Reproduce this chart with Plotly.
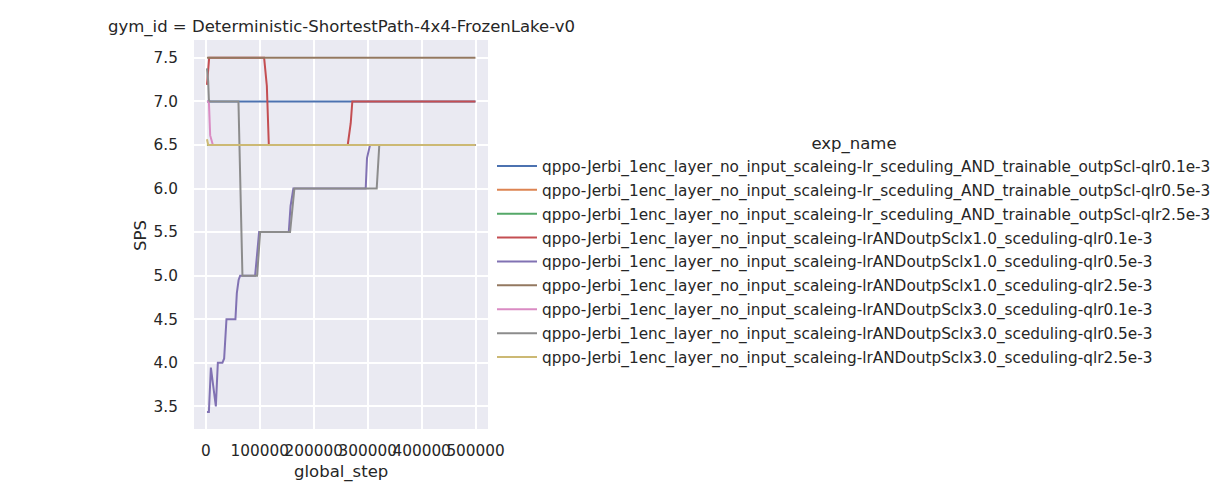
import plotly.graph_objects as go

PREFIX = "qppo-Jerbi_1enc_layer_no_input_scaleing-"
names = [
    PREFIX + "lr_sceduling_AND_trainable_outpScl-qlr0.1e-3",
    PREFIX + "lr_sceduling_AND_trainable_outpScl-qlr0.5e-3",
    PREFIX + "lr_sceduling_AND_trainable_outpScl-qlr2.5e-3",
    PREFIX + "lrANDoutpSclx1.0_sceduling-qlr0.1e-3",
    PREFIX + "lrANDoutpSclx1.0_sceduling-qlr0.5e-3",
    PREFIX + "lrANDoutpSclx1.0_sceduling-qlr2.5e-3",
    PREFIX + "lrANDoutpSclx3.0_sceduling-qlr0.1e-3",
    PREFIX + "lrANDoutpSclx3.0_sceduling-qlr0.5e-3",
    PREFIX + "lrANDoutpSclx3.0_sceduling-qlr2.5e-3",
]
colors = ["#4c72b0", "#dd8452", "#55a868", "#c44e52", "#8172b3",
          "#937860", "#da8bc3", "#8c8c8c", "#ccb974"]

steps_lr01 = [2048, 499712]
sps_lr01 = [7.0, 7.0]
steps_lr05 = [2048, 499712]
sps_lr05 = [6.5, 6.5]
steps_lr25 = [2048, 499712]
sps_lr25 = [6.5, 6.5]
steps_x1_01 = [2048, 6100, 108000, 113000, 114000, 116700, 263000, 268500, 271500, 499712]
sps_x1_01 = [7.19, 7.5, 7.5, 7.18, 7.0, 6.5, 6.5, 6.75, 7.0, 7.0]
steps_x1_05 = [2048, 5600, 9300, 18500, 22200, 30700, 33900, 38200, 54800, 57400, 60700,
               63500, 91300, 95000, 98700, 153700, 157000, 162200, 296300, 298700, 304300, 499712]
sps_x1_05 = [3.435, 3.435, 3.945, 3.5, 4.0, 4.0, 4.05, 4.5, 4.5, 4.8, 4.95,
             5.0, 5.0, 5.3, 5.5, 5.5, 5.8, 6.0, 6.0, 6.35, 6.5, 6.5]
steps_x1_25 = [2048, 499712]
sps_x1_25 = [7.5, 7.5]
steps_x3_01 = [2048, 5600, 8000, 13000, 499712]
sps_x3_01 = [7.0, 7.0, 6.61, 6.5, 6.5]
steps_x3_05 = [2048, 4300, 5600, 7000, 60400, 67800, 95000, 100600, 156100, 164100,
               316700, 321500, 499712]
sps_x3_05 = [7.38, 7.23, 7.02, 7.0, 7.0, 5.0, 5.0, 5.5, 5.5, 6.0, 6.0, 6.5, 6.5]
steps_x3_25 = [2048, 4300, 499712]
sps_x3_25 = [6.565, 6.5, 6.5]

all_steps = [steps_lr01, steps_lr05, steps_lr25, steps_x1_01, steps_x1_05,
             steps_x1_25, steps_x3_01, steps_x3_05, steps_x3_25]
all_sps = [sps_lr01, sps_lr05, sps_lr25, sps_x1_01, sps_x1_05,
           sps_x1_25, sps_x3_01, sps_x3_05, sps_x3_25]

x_ticks = [0, 100000, 200000, 300000, 400000, 500000]
y_ticks = [3.5, 4.0, 4.5, 5.0, 5.5, 6.0, 6.5, 7.0, 7.5]

FONT = "DejaVu Sans"
TXT = "#262626"

fig = go.Figure()
for i, (n, c, xs, ys) in enumerate(zip(names, colors, all_steps, all_sps)):
    fig.add_trace(go.Scatter(x=xs, y=ys, mode="lines", name=n,
                             line=dict(color=c, width=2),
                             legendgroup="g%d" % i))

# page has an 8px body margin; positions below are in figure pixels
L, T, PW, PH = 186, 32, 294, 389
R = 1223 - L - PW
B = 500 - T - PH


def px_x(px):  # figure pixel -> paper x
    return (px - L) / PW


def px_y(py):  # figure pixel -> paper y
    return 1 - (py - T) / PH


fig.update_layout(
    width=1223, height=500,
    margin=dict(l=L, r=R, t=T, b=B, autoexpand=False),
    paper_bgcolor="white",
    plot_bgcolor="#eaeaf2",
    font=dict(family=FONT, color=TXT, size=15.3),
    showlegend=True,
    legend=dict(
        x=px_x(484), xanchor="left",
        y=px_y(120), yanchor="top",
        title=dict(text="exp_name", side="top center",
                   font=dict(size=16.5, family=FONT, color=TXT)),
        font=dict(size=15.3, family=FONT, color=TXT),
        bgcolor="rgba(0,0,0,0)",
        tracegroupgap=1,
        itemwidth=40,
    ),
    annotations=[
        dict(text="gym_id = Deterministic-ShortestPath-4x4-FrozenLake-v0",
             xref="paper", yref="paper", x=0.5, y=1, xanchor="center", yanchor="bottom",
             yshift=1, showarrow=False, font=dict(size=16.5, family=FONT, color=TXT)),
        dict(text="global_step", xref="paper", yref="paper", x=0.5, y=px_y(464),
             xanchor="center", yanchor="middle", showarrow=False,
             font=dict(size=16.5, family=FONT, color=TXT)),
        dict(text="SPS", xref="paper", yref="paper", x=px_x(132), y=px_y(228),
             xanchor="center", yanchor="middle", textangle=-90, showarrow=False,
             font=dict(size=16.5, family=FONT, color=TXT)),
    ],
)
fig.update_xaxes(
    range=[-22000, 523000], tickvals=x_ticks, ticktext=[str(v) for v in x_ticks],
    tickangle=0,
    showgrid=True, gridcolor="white", gridwidth=1.5, zeroline=False,
    ticks="outside", ticklen=8, tickcolor="rgba(0,0,0,0)",
    tickfont=dict(size=15.3, family=FONT, color=TXT), showline=False,
)
fig.update_yaxes(
    range=[3.24, 7.705], tickvals=y_ticks, ticktext=["%.1f" % v for v in y_ticks],
    showgrid=True, gridcolor="white", gridwidth=1.5, zeroline=False,
    ticks="outside", ticklen=12, tickcolor="rgba(0,0,0,0)",
    tickfont=dict(size=15.3, family=FONT, color=TXT), showline=False,
)

fig.write_html("out.html")
